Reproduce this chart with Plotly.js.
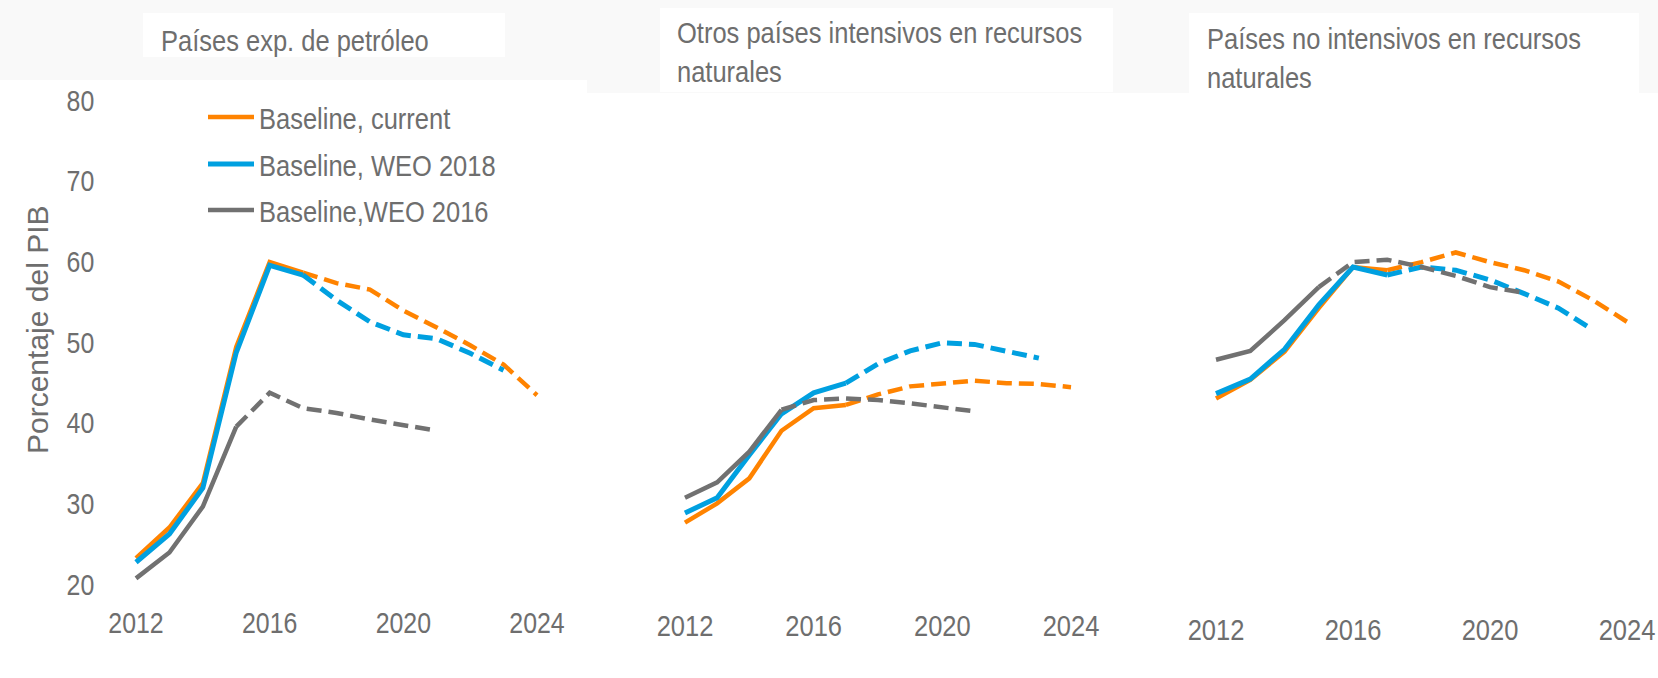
<!DOCTYPE html>
<html>
<head>
<meta charset="utf-8">
<script src="https://cdn.plot.ly/plotly-3.0.1.min.js"></script>
<style>html,body{margin:0;padding:0;background:#fff;}#chart{width:1658px;height:678px;}</style>
</head>
<body>
<div id="chart"></div>
<script>
// ---- Data ----
const years = [2012, 2013, 2014, 2015, 2016, 2017, 2018, 2019, 2020, 2021, 2022, 2023, 2024];
const panelTitles = ['Países exp. de petróleo', 'Otros países intensivos en recursos<br>naturales', 'Países no intensivos en recursos<br>naturales'];
const seriesNames = ['Baseline, current', 'Baseline, WEO 2018', 'Baseline,WEO 2016'];
const lastActualYear = [2017, 2017, 2015]; // solid up to this year, dashed after

// Países exp. de petróleo
const oilCurrent = [23.2, 27.0, 32.5, 49.4, 59.9, 58.6, 57.3, 56.5, 53.9, 51.8, 49.6, 47.2, 43.4];
const oilWEO2018 = [22.7, 26.2, 31.9, 48.7, 59.5, 58.3, 55.2, 52.5, 50.9, 50.4, 48.6, 46.5];
const oilWEO2016 = [20.7, 23.9, 29.6, 39.5, 43.7, 41.8, 41.2, 40.4, 39.7, 39.0];
// Otros países intensivos en recursos naturales
const resCurrent = [27.6, 30.0, 33.1, 39.0, 41.8, 42.2, 43.5, 44.5, 44.9, 45.2, 44.9, 44.8, 44.4];
const resWEO2018 = [28.8, 30.7, 36.0, 41.1, 43.7, 44.9, 47.3, 48.9, 49.9, 49.7, 48.8, 48.0];
const resWEO2016 = [30.7, 32.6, 36.4, 41.6, 42.8, 43.0, 42.8, 42.4, 41.9, 41.4];
// Países no intensivos en recursos naturales
const nonCurrent = [43.0, 45.3, 48.8, 54.2, 59.3, 58.9, 59.9, 61.1, 59.9, 58.9, 57.5, 55.2, 52.5];
const nonWEO2018 = [43.6, 45.4, 49.1, 54.6, 59.3, 58.3, 59.3, 58.9, 57.7, 56.0, 54.2, 51.5];
const nonWEO2016 = [47.8, 48.9, 52.7, 56.8, 59.9, 60.2, 59.3, 58.2, 56.8, 56.1];

const yTicks = [20, 30, 40, 50, 60, 70, 80];
const xTicks = [2012, 2016, 2020, 2024];

// ---- Styles ----
const colors = ['#FF8300', '#00A0E0', '#717171'];
const widths = [4.5, 5, 4.5];
const textColor = '#6e6e6e';
const FONT = "'Liberation Sans', Arial, sans-serif";
const FS = 30;

const panels = [
  [oilCurrent, oilWEO2018, oilWEO2016],
  [resCurrent, resWEO2018, resWEO2016],
  [nonCurrent, nonWEO2018, nonWEO2016]
];

const traces = [];
panels.forEach((series, p) => {
  const xa = p === 0 ? 'x' : 'x' + (p + 1);
  const ya = p === 0 ? 'y' : 'y' + (p + 1);
  series.forEach((vals, s) => {
    const xs = years.slice(0, vals.length);
    const cut = xs.indexOf(lastActualYear[s]);
    const legendId = s === 0 ? 'legend' : 'legend' + (s + 1);
    traces.push({
      x: xs.slice(0, cut + 1), y: vals.slice(0, cut + 1),
      xaxis: xa, yaxis: ya, type: 'scatter', mode: 'lines',
      name: seriesNames[s], showlegend: p === 0, legend: legendId,
      line: {color: colors[s], width: widths[s]}, hoverinfo: 'x+y'
    });
    traces.push({
      x: xs.slice(cut), y: vals.slice(cut),
      xaxis: xa, yaxis: ya, type: 'scatter', mode: 'lines',
      name: seriesNames[s] + ' (proy.)', showlegend: false,
      line: {color: colors[s], width: widths[s], dash: '15px,7px'}, hoverinfo: 'x+y'
    });
  });
});

const W = 1658, H = 678;
const xDomains = [[119.3 / W, 553.7 / W], [668.9 / W, 1087.1 / W], [1198.9 / W, 1644.1 / W]];
const yDomain = [(H - 584) / H, (H - 100) / H];
const tickLens = [12, 15, 19];

const layout = {
  width: W, height: H,
  margin: {l: 0, r: 0, t: 0, b: 0},
  paper_bgcolor: '#ffffff', plot_bgcolor: 'rgba(0,0,0,0)',
  font: {family: FONT, size: FS, color: textColor},
  showlegend: true,
  annotations: [],
  shapes: []
};

[0, 1, 2].forEach(p => {
  const sfx = p === 0 ? '' : String(p + 1);
  layout['xaxis' + sfx] = {
    domain: xDomains[p], range: [2011.5, 2024.5], anchor: 'y' + sfx,
    tickvals: xTicks, ticktext: xTicks.map(String), ticklabeloverflow: 'allow',
    showgrid: false, zeroline: false, showline: false,
    ticks: 'outside', ticklen: tickLens[p], tickcolor: 'rgba(0,0,0,0)',
    tickfont: {family: FONT, size: FS, color: textColor}, fixedrange: true
  };
  layout['yaxis' + sfx] = {
    domain: yDomain, range: [20, 80], anchor: 'x' + sfx,
    tickvals: yTicks, ticktext: yTicks.map(String), showticklabels: p === 0,
    showgrid: false, zeroline: false, showline: false, ticklabeloverflow: 'allow',
    ticks: p === 0 ? 'outside' : '', ticklen: 18, tickcolor: 'rgba(0,0,0,0)',
    tickfont: {family: FONT, size: FS, color: textColor}, fixedrange: true
  };
});

// legends (one per entry so rows sit where the reference has them)
const legendRowsY = [117, 164, 210];
['legend', 'legend2', 'legend3'].forEach((id, i) => {
  layout[id] = {
    x: 203 / W, xanchor: 'left', y: (H - legendRowsY[i]) / H, yanchor: 'middle',
    bgcolor: 'rgba(0,0,0,0)', borderwidth: 0, itemwidth: 46,
    font: {family: FONT, size: FS, color: textColor}
  };
});

// titles
const titlePos = [[159, 40], [675, 52], [1205, 58]];
panelTitles.forEach((t, p) => {
  layout.annotations.push({
    text: t, xref: 'paper', yref: 'paper',
    x: titlePos[p][0] / W, y: (H - titlePos[p][1]) / H,
    xanchor: 'left', yanchor: 'middle', align: 'left', showarrow: false,
    font: {family: FONT, size: FS, color: textColor}
  });
});
layout.annotations.push({
  text: 'Porcentaje del PIB', xref: 'paper', yref: 'paper',
  x: 37 / W, y: (H - 330) / H, xanchor: 'center', yanchor: 'middle',
  textangle: -90, showarrow: false,
  font: {family: FONT, size: FS, color: textColor}
});

// faint header band and white title boxes
function rectPx(x0, y0, x1, y1, fill) {
  return {type: 'rect', xref: 'paper', yref: 'paper', layer: 'below',
    x0: x0 / W, x1: x1 / W, y0: (H - y1) / H, y1: (H - y0) / H,
    fillcolor: fill, line: {width: 0}};
}
layout.shapes.push(rectPx(0, 0, 587, 80, '#f9f9f9'));
layout.shapes.push(rectPx(587, 0, W, 93, '#f9f9f9'));
layout.shapes.push(rectPx(143, 13, 505, 57, '#ffffff'));
layout.shapes.push(rectPx(660, 8, 1113, 92, '#ffffff'));
layout.shapes.push(rectPx(1189, 13, 1639, 93, '#ffffff'));

// the reference typeface is a condensed sans: narrow horizontal text about its anchor
function condense(root) {
  root.querySelectorAll('svg text').forEach(el => {
    const ctm = el.getCTM();
    if (!ctm || Math.abs(ctm.b) > 0.01) return; // leave rotated text as is
    const bb = el.getBBox();
    if (!bb.width) return;
    const sx = el.closest('.xtick, .ytick') ? 0.83 : 0.85;
    const anc = el.getAttribute('text-anchor') || 'start';
    const ax = anc === 'end' ? bb.x + bb.width : anc === 'middle' ? bb.x + bb.width / 2 : bb.x;
    const prev = el.getAttribute('transform') || '';
    el.setAttribute('transform', prev + ' translate(' + ax + ',0) scale(' + sx + ',1) translate(' + (-ax) + ',0)');
  });
}

Plotly.newPlot('chart', traces, layout, {displayModeBar: false, staticPlot: true})
  .then(gd => condense(gd));
</script>
</body>
</html>
